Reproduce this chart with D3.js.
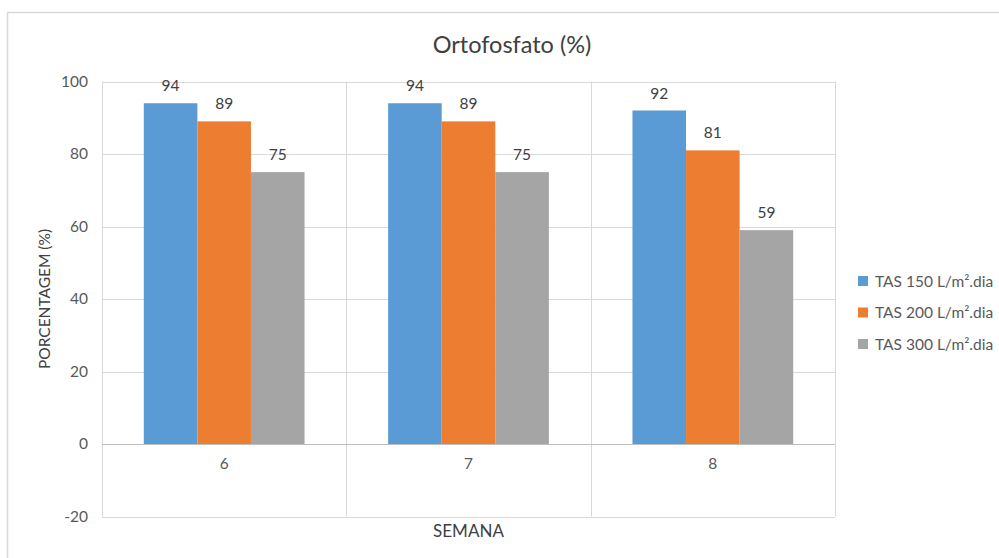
<!DOCTYPE html>
<html>
<head>
<meta charset="utf-8">
<script src="https://cdn.jsdelivr.net/npm/d3@7"></script>
<style>
  html, body { margin: 0; padding: 0; background: #fff; }
  svg { display: block; font-family: Lato, "Open Sans", sans-serif; }
</style>
</head>
<body>
<svg id="chart" width="999" height="558"></svg>
<script>
// Weeks on the category axis
const semanas = ["6", "7", "8"];
// Series names (hydraulic loading rates)
const series = ["TAS 150 L/m².dia", "TAS 200 L/m².dia", "TAS 300 L/m².dia"];
// Removal percentages per series, one value per week
const tas150 = [94, 94, 92];
const tas200 = [89, 89, 81];
const tas300 = [75, 75, 59];
// Y axis ticks
const yTicks = [-20, 0, 20, 40, 60, 80, 100];
const colors = ["#5B9BD5", "#ED7D31", "#A5A5A5"];

const values = [tas150, tas200, tas300];
const svg = d3.select("#chart");
const plot = { left: 102, right: 835, top: 81.5, bottom: 516.5 };
const textColor = "#595959";

// chart border
svg.append("rect")
  .attr("x", 7.5).attr("y", 12.5)
  .attr("width", 1000).attr("height", 560)
  .attr("fill", "#fff").attr("stroke", "#D9D9D9").attr("stroke-width", 1.5);

const x0 = d3.scaleBand().domain(semanas).range([plot.left, plot.right]).paddingInner(0).paddingOuter(0);
const x1 = d3.scaleBand().domain(series).range([0, x0.bandwidth()]).paddingOuter(0.78).paddingInner(0);
const y = d3.scaleLinear().domain([-20, 100]).range([plot.bottom, plot.top]);

// horizontal gridlines
svg.append("g").selectAll("line").data(yTicks.filter(t => t !== 0)).join("line")
  .attr("x1", plot.left).attr("x2", plot.right)
  .attr("y1", d => Math.round(y(d)) + 0.5).attr("y2", d => Math.round(y(d)) + 0.5)
  .attr("stroke", "#D9D9D9").attr("stroke-width", 1);

// vertical category separators and plot frame sides
const seps = [plot.left, ...semanas.slice(1).map(s => x0(s)), plot.right];
svg.append("g").selectAll("line").data(seps).join("line")
  .attr("x1", d => Math.round(d) + 0.5).attr("x2", d => Math.round(d) + 0.5)
  .attr("y1", plot.top).attr("y2", plot.bottom)
  .attr("stroke", "#D9D9D9").attr("stroke-width", 1);

// bars
const groups = svg.append("g").selectAll("g").data(semanas).join("g")
  .attr("transform", s => `translate(${x0(s)},0)`);
groups.selectAll("rect")
  .data((s, i) => series.map((name, k) => ({ name, k, v: values[k][i] })))
  .join("rect")
  .attr("x", d => x1(d.name))
  .attr("width", x1.bandwidth())
  .attr("y", d => y(d.v))
  .attr("height", d => y(0) - y(d.v))
  .attr("fill", d => colors[d.k]);

// value labels
groups.selectAll("text")
  .data((s, i) => series.map((name, k) => ({ name, k, v: values[k][i] })))
  .join("text")
  .attr("x", d => x1(d.name) + x1.bandwidth() / 2)
  .attr("y", d => y(d.v) - 12)
  .attr("text-anchor", "middle")
  .attr("font-size", 15.5).attr("fill", "#404040")
  .text(d => d.v);

// zero axis line
svg.append("line")
  .attr("x1", plot.left).attr("x2", plot.right)
  .attr("y1", Math.round(y(0)) + 0.5).attr("y2", Math.round(y(0)) + 0.5)
  .attr("stroke", "#BFBFBF").attr("stroke-width", 1.2);

// y axis labels
const yAxis = d3.axisLeft(y).tickValues(yTicks).tickFormat(d => String(d)).tickSize(0).tickPadding(14);
const gy = svg.append("g").attr("transform", `translate(${plot.left},0)`).call(yAxis);
gy.select(".domain").remove();
gy.selectAll("text").attr("font-size", 15.5).attr("fill", textColor).attr("font-family", "Lato, sans-serif");

// x axis labels
const xAxis = d3.axisBottom(x0).tickSize(0).tickPadding(14);
const gx = svg.append("g").attr("transform", `translate(0,${y(0)})`).call(xAxis);
gx.select(".domain").remove();
gx.selectAll("text").attr("font-size", 15.5).attr("fill", textColor).attr("font-family", "Lato, sans-serif");

// title
svg.append("text")
  .attr("x", 512).attr("y", 53)
  .attr("text-anchor", "middle")
  .attr("font-size", 23.5).attr("fill", "#404040")
  .text("Ortofosfato (%)");

// axis titles
svg.append("text")
  .attr("transform", `translate(50,${(plot.top + plot.bottom) / 2}) rotate(-90)`)
  .attr("text-anchor", "middle")
  .attr("font-size", 15.5).attr("fill", "#404040")
  .text("PORCENTAGEM (%)");
svg.append("text")
  .attr("x", (plot.left + plot.right) / 2).attr("y", 537)
  .attr("text-anchor", "middle")
  .attr("font-size", 17).attr("fill", "#404040")
  .text("SEMANA");

// legend
const legend = svg.append("g").selectAll("g").data(series).join("g")
  .attr("transform", (d, i) => `translate(858,${281 + i * 31.5})`);
legend.append("rect")
  .attr("x", 0).attr("y", -5).attr("width", 10).attr("height", 10)
  .attr("fill", (d, i) => colors[i]);
legend.append("text")
  .attr("x", 17).attr("y", 5.5)
  .attr("font-size", 15.5).attr("fill", textColor)
  .text(d => d);
</script>
</body>
</html>
